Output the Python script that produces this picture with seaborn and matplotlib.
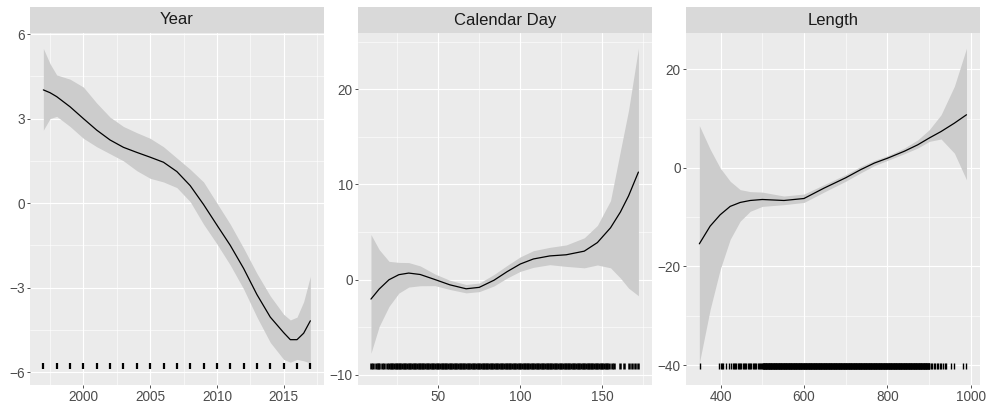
import matplotlib
matplotlib.use("Agg")
import matplotlib.pyplot as plt
from matplotlib.patches import Rectangle
from matplotlib.ticker import MultipleLocator
import seaborn as sns

# ---- data ----
year_x = [1997, 1997.5, 1998, 1999, 2000, 2001, 2002, 2003, 2004, 2005, 2006, 2007, 2008,
          2009, 2010, 2011, 2012, 2013, 2014, 2015, 2015.5, 2016, 2016.5, 2017]
year_fit = [4.02, 3.92, 3.78, 3.42, 3.00, 2.59, 2.24, 1.98, 1.80, 1.63, 1.45, 1.12, 0.62,
            -0.05, -0.78, -1.50, -2.32, -3.25, -4.05, -4.60, -4.85, -4.85, -4.62, -4.18]
year_hi = [5.49, 4.95, 4.55, 4.40, 4.12, 3.55, 3.05, 2.72, 2.50, 2.30, 2.00, 1.60, 1.20,
           0.75, 0.00, -0.75, -1.60, -2.50, -3.30, -3.95, -4.15, -4.05, -3.50, -2.60]
year_lo = [2.59, 3.00, 3.08, 2.72, 2.30, 2.00, 1.75, 1.50, 1.15, 0.88, 0.75, 0.55, 0.05,
           -0.75, -1.45, -2.20, -3.05, -4.05, -4.95, -5.55, -5.65, -5.55, -5.60, -5.68]
year_rug = [1997, 1998, 1999, 2000, 2001, 2002, 2003, 2004, 2005, 2006, 2007,
            2008, 2009, 2010, 2011, 2012, 2013, 2014, 2015, 2016, 2017]
year_rug_y = -5.79

day_x = [9, 14, 20, 26, 32, 39, 48, 57, 67, 75, 84, 92, 100, 108, 118, 128, 139, 147,
         155, 161, 166, 172]
day_fit = [-2.03, -0.98, 0.0, 0.53, 0.70, 0.55, 0.02, -0.53, -0.95, -0.80, -0.05, 0.85,
           1.65, 2.18, 2.50, 2.62, 3.00, 3.90, 5.45, 7.10, 8.80, 11.3]
day_hi = [4.74, 3.16, 1.93, 1.82, 1.80, 1.45, 0.60, -0.05, -0.50, -0.35, 0.55, 1.50,
          2.40, 3.05, 3.40, 3.65, 4.40, 5.70, 8.30, 13.5, 17.8, 24.3]
day_lo = [-7.72, -4.9, -2.8, -1.4, -0.77, -0.63, -0.62, -1.02, -1.38, -1.25, -0.65, 0.18,
          0.88, 1.30, 1.58, 1.40, 1.25, 1.55, 1.25, 0.18, -0.88, -1.68]
# every observed calendar day: sparse start, daily block, sparse tail
day_rug = ([9, 10, 12, 13, 14, 16, 17, 19, 20] + list(range(21, 149))
           + [149, 150, 151, 152, 153, 154, 156, 157, 161, 163, 166, 168, 170, 172])
day_rug_y = -9.09

len_x = [349, 375, 399, 423, 447, 471, 500, 552, 600, 648, 700, 736, 769, 801, 841,
         873, 901, 929, 961, 990]
len_fit = [-15.4, -11.8, -9.5, -7.8, -7.0, -6.6, -6.4, -6.6, -6.2, -4.1, -2.0, -0.35,
           1.0, 2.0, 3.4, 4.7, 6.1, 7.4, 9.1, 10.8]
len_hi = [8.6, 3.8, 0.0, -2.7, -4.4, -4.8, -4.9, -5.7, -5.3, -3.4, -1.35, 0.3, 1.55,
          2.5, 4.05, 5.7, 7.8, 10.8, 16.6, 24.3]
len_lo = [-39.6, -28.7, -20.6, -14.5, -10.8, -8.8, -7.8, -7.45, -7.0, -4.9, -2.7, -1.0,
          0.47, 1.55, 2.9, 4.05, 5.4, 5.88, 3.0, -2.4]
# observed lengths: a few small fish, then near-continuous 430-900, sparse tail
len_rug = ([350, 397, 400, 403, 406, 412, 419, 425] + list(range(429, 500, 3))
           + list(range(500, 902))
           + [904, 908, 911, 915, 919, 922, 926, 930, 934, 938, 941, 953, 961, 981, 989])
len_rug_y = -40.26

titles = ["Year", "Calendar Day", "Length"]

# ---- style ----
sns.set_theme(style="darkgrid", rc={
    "axes.facecolor": "#EBEBEB",
    "grid.color": "white",
    "axes.edgecolor": "none",
})
plt.rcParams["font.family"] = ["Liberation Sans", "DejaVu Sans"]

W, H = 987, 404
fig = plt.figure(figsize=(W / 100, H / 100), dpi=100)

panels = [
    (30, year_x, year_fit, year_hi, year_lo, year_rug, year_rug_y, 1.6,
     (1996, 2018), (-6.46, 6.04), 5, 2.5, 3, 1.5),
    (358, day_x, day_fit, day_hi, day_lo, day_rug, day_rug_y, 1.8,
     (1.1, 180.1), (-11.05, 25.9), 50, 25, 10, 5),
    (686, len_x, len_fit, len_hi, len_lo, len_rug, len_rug_y, 1.0,
     (317, 1021.7), (-44.06, 27.4), 200, 100, 20, 10),
]

pw, top, bot = 293.7, 33, 385
for title, (left, x, fit, hi, lo, rug, rug_y, rug_lw, xl, yl, xmaj, xmin, ymaj, ymin) in zip(titles, panels):
    ax = fig.add_axes([left / W, (H - bot) / H, pw / W, (bot - top) / H])
    ax.fill_between(x, lo, hi, color="#CCCCCC", lw=0, zorder=2)
    sns.lineplot(x=x, y=fit, ax=ax, color="black", lw=0.9, estimator=None, sort=False, zorder=3)
    sns.scatterplot(x=rug, y=[rug_y] * len(rug), ax=ax, marker="|", s=22,
                    color="black", edgecolor="black", linewidth=rug_lw, zorder=4)
    ax.set_xlim(*xl)
    ax.set_ylim(*yl)
    ax.xaxis.set_major_locator(MultipleLocator(xmaj))
    ax.xaxis.set_minor_locator(MultipleLocator(xmin))
    ax.yaxis.set_major_locator(MultipleLocator(ymaj))
    ax.yaxis.set_minor_locator(MultipleLocator(ymin))
    ax.grid(which="major", color="white", lw=0.8)
    ax.grid(which="minor", color="white", lw=0.4)
    ax.set_axisbelow(True)
    ax.tick_params(which="major", length=2.2, width=0.6, color="#333333",
                   labelsize=9.8, labelcolor="#4D4D4D", pad=1.5, bottom=True, left=True)
    ax.tick_params(which="minor", length=0)
    ax.set_xlabel("")
    ax.set_ylabel("")
    ax.yaxis.set_major_formatter(matplotlib.ticker.FuncFormatter(
        lambda v, p: f"{v:g}".replace("-", "\u2212")))
    for s in ax.spines.values():
        s.set_visible(False)
    sh = (top - 7) / (bot - top)
    ax.add_patch(Rectangle((0, 1), 1, sh, transform=ax.transAxes, facecolor="#D9D9D9",
                           edgecolor="none", clip_on=False))
    ax.text(0.5, 1 + sh / 2, title, transform=ax.transAxes, ha="center", va="center",
            fontsize=12, color="#1A1A1A")

fig.savefig("out.png", dpi=100)
